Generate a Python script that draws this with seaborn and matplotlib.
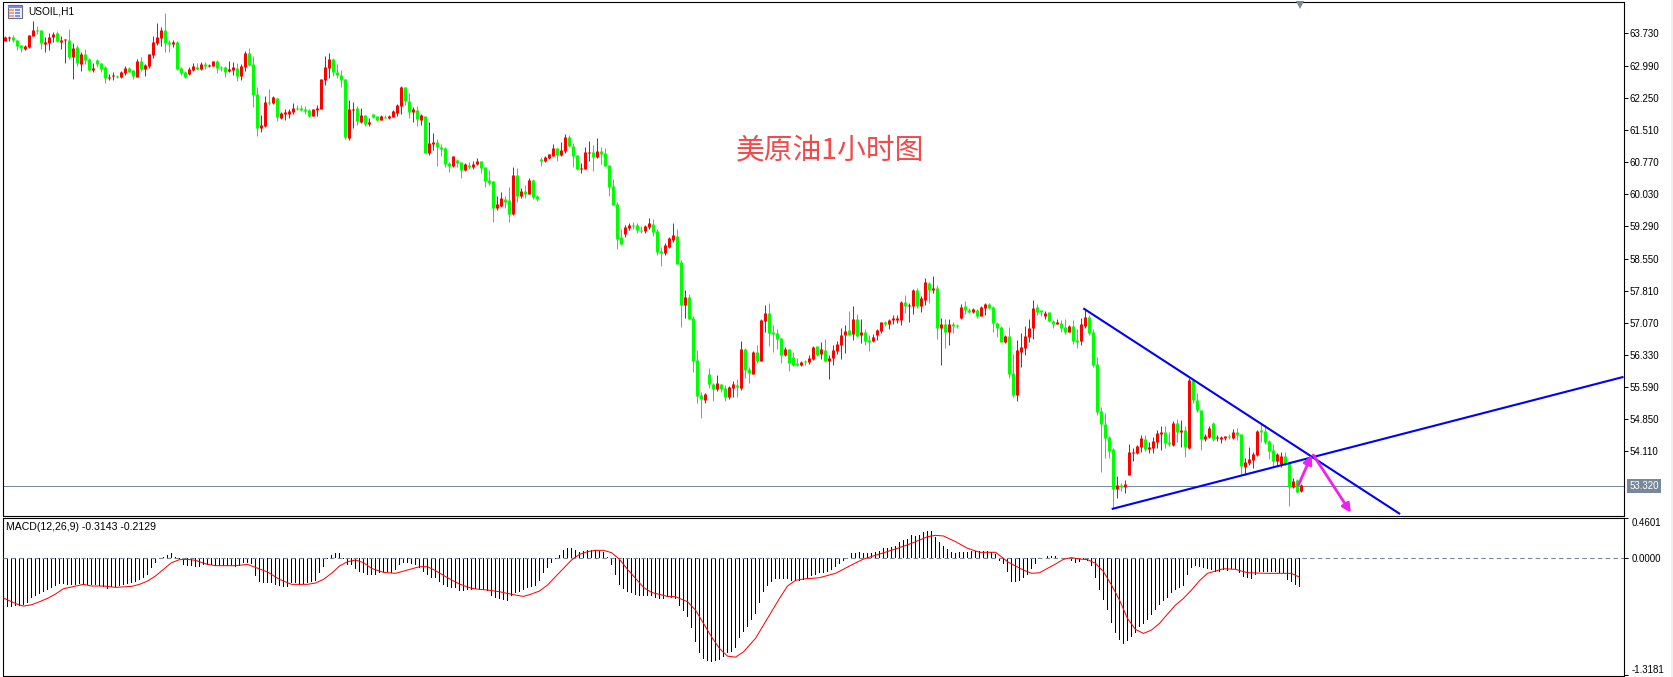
import matplotlib
matplotlib.use("Agg")
import matplotlib.pyplot as plt
import numpy as np
import pandas as pd
import seaborn as sns
from matplotlib.patches import Rectangle

# candles, one value per hour
opens = [
    63.56, 63.62, 63.65, 63.59, 63.46, 63.37, 63.42, 63.68, 63.81, 63.81,
    63.49, 63.51, 63.66, 63.74, 63.54, 63.57, 63.58, 63.19, 63.42, 63.03,
    63.26, 63.14, 62.90, 63.12, 63.05, 62.96, 62.71, 62.74, 62.76, 62.73,
    62.82, 62.94, 62.89, 62.73, 63.10, 62.91, 62.98, 63.23, 63.51, 63.63,
    63.81, 63.53, 63.49, 63.53, 62.94, 62.84, 62.80, 62.89, 62.96, 62.91,
    63.03, 62.99, 62.98, 63.10, 62.96, 62.96, 62.87, 62.89, 62.94, 62.75,
    62.96, 63.28, 63.03, 62.34, 61.55, 61.59, 62.15, 62.13, 62.25, 61.78,
    61.88, 61.88, 61.92, 62.02, 62.02, 61.99, 61.97, 61.83, 61.97, 61.99,
    62.66, 62.94, 63.14, 62.84, 62.77, 62.68, 61.32, 61.97, 62.02, 61.69,
    61.85, 61.65, 61.88, 61.83, 61.74, 61.81, 61.78, 61.81, 61.90, 62.06,
    62.50, 62.18, 61.92, 61.97, 61.74, 61.83, 60.98, 61.19, 61.23, 61.12,
    61.10, 60.75, 60.68, 60.82, 60.77, 60.59, 60.70, 60.66, 60.73, 60.80,
    60.66, 60.36, 60.34, 59.71, 59.76, 59.92, 59.90, 59.58, 60.47, 59.99,
    60.11, 60.04, 60.36, 59.99, 60.84, 60.80, 60.87, 60.91, 61.10, 60.93,
    61.03, 61.35, 61.14, 60.93, 60.62, 60.61, 60.99, 61.00, 60.89, 61.03,
    60.98, 60.70, 60.22, 59.81, 59.05, 59.12, 59.25, 59.32, 59.32, 59.21,
    59.19, 59.28, 59.35, 59.19, 58.73, 58.68, 58.82, 58.98, 59.07, 58.47,
    57.48, 57.67, 57.18, 56.22, 55.41, 55.30, 55.90, 55.67, 55.55, 55.67,
    55.57, 55.37, 55.57, 55.64, 55.57, 56.47, 56.01, 55.90, 56.40, 56.19,
    57.11, 57.30, 56.86, 56.84, 56.72, 56.33, 56.47, 56.29, 56.15, 56.10,
    56.19, 56.17, 56.24, 56.54, 56.35, 56.45, 56.19, 56.26, 56.42, 56.56,
    56.79, 56.91, 56.81, 57.16, 56.79, 56.86, 56.68, 56.65, 56.79, 56.88,
    57.09, 57.04, 57.14, 57.14, 57.14, 57.55, 57.46, 57.46, 57.83, 57.46,
    57.60, 57.99, 57.83, 57.87, 56.95, 57.04, 56.86, 57.04, 57.01, 57.18,
    57.46, 57.37, 57.32, 57.37, 57.23, 57.41, 57.50, 57.44, 57.07, 56.98,
    56.63, 56.77, 55.92, 55.41, 56.40, 56.49, 56.75, 56.95, 57.44, 57.37,
    57.23, 57.32, 57.11, 57.04, 57.07, 56.98, 56.86, 57.00, 56.68, 56.65,
    57.00, 57.21, 56.86, 56.12, 55.04, 54.74, 54.44, 54.17, 53.25, 53.34,
    53.29, 53.57, 54.08, 54.08, 54.21, 54.40, 54.17, 54.19, 54.33, 54.51,
    54.56, 54.33, 54.26, 54.77, 54.56, 54.61, 54.19, 55.76, 55.30, 55.07,
    54.40, 54.44, 54.77, 54.41, 54.40, 54.42, 54.47, 54.42, 54.56, 54.51,
    53.75, 53.85, 53.92, 54.03, 54.61, 54.58, 54.35, 54.14, 53.89, 53.82,
    54.01, 53.85, 53.29, 53.45, 53.20,
]
closes = [
    63.64, 63.64, 63.59, 63.45, 63.39, 63.44, 63.69, 63.81, 63.79, 63.50,
    63.53, 63.65, 63.72, 63.56, 63.58, 63.59, 63.19, 63.40, 63.05, 63.26,
    63.12, 62.89, 62.94, 63.03, 62.91, 62.71, 62.73, 62.77, 62.73, 62.84,
    62.94, 62.84, 62.75, 63.10, 62.91, 63.00, 63.26, 63.53, 63.65, 63.81,
    63.51, 63.49, 63.53, 62.91, 62.82, 62.73, 62.91, 62.98, 62.91, 63.03,
    62.99, 63.01, 63.10, 62.94, 62.94, 62.84, 62.91, 62.96, 62.75, 62.98,
    63.28, 63.00, 62.31, 61.55, 61.62, 62.15, 62.12, 62.27, 61.81, 61.90,
    61.92, 61.95, 62.02, 61.99, 61.97, 61.95, 61.83, 61.99, 62.02, 62.68,
    62.96, 63.14, 62.84, 62.77, 62.66, 61.35, 61.99, 61.99, 61.72, 61.85,
    61.65, 61.69, 61.81, 61.74, 61.83, 61.79, 61.83, 61.95, 62.08, 62.50,
    62.18, 61.92, 61.99, 61.76, 61.85, 60.98, 61.21, 61.23, 61.12, 61.07,
    60.73, 60.68, 60.91, 60.75, 60.59, 60.73, 60.66, 60.73, 60.80, 60.64,
    60.34, 60.29, 59.71, 59.81, 59.95, 59.85, 59.58, 60.47, 59.99, 60.11,
    60.04, 60.36, 59.97, 59.92, 60.80, 60.89, 60.96, 61.10, 60.93, 61.05,
    61.35, 61.14, 60.91, 60.61, 60.64, 61.00, 61.00, 60.89, 61.03, 60.96,
    60.68, 60.20, 59.78, 59.00, 58.89, 59.28, 59.32, 59.30, 59.21, 59.19,
    59.30, 59.37, 59.16, 58.70, 58.68, 58.86, 59.02, 59.09, 58.43, 57.48,
    57.67, 57.16, 56.19, 55.39, 55.32, 55.44, 55.67, 55.55, 55.69, 55.55,
    55.37, 55.60, 55.67, 55.60, 56.47, 55.99, 55.92, 56.40, 56.19, 57.14,
    57.30, 56.84, 56.82, 56.70, 56.33, 56.47, 56.15, 56.10, 56.10, 56.17,
    56.17, 56.26, 56.52, 56.33, 56.47, 56.19, 56.26, 56.45, 56.58, 56.79,
    56.88, 56.79, 57.16, 56.77, 56.86, 56.65, 56.63, 56.74, 56.91, 57.09,
    57.04, 57.14, 57.18, 57.18, 57.55, 57.46, 57.49, 57.83, 57.46, 57.64,
    58.01, 57.83, 57.87, 56.95, 57.04, 56.86, 57.04, 57.00, 57.00, 57.44,
    57.37, 57.32, 57.39, 57.23, 57.44, 57.50, 57.41, 57.07, 56.95, 56.63,
    56.77, 55.89, 55.41, 56.45, 56.52, 56.77, 56.95, 57.41, 57.32, 57.32,
    57.30, 57.11, 57.04, 57.09, 56.95, 56.86, 57.00, 56.65, 56.63, 57.04,
    57.21, 56.84, 56.10, 55.02, 54.74, 54.42, 54.12, 53.25, 53.34, 53.29,
    53.36, 54.10, 54.10, 54.24, 54.42, 54.17, 54.21, 54.35, 54.54, 54.56,
    54.31, 54.28, 54.77, 54.56, 54.61, 54.21, 55.76, 55.30, 55.07, 54.40,
    54.47, 54.65, 54.40, 54.44, 54.44, 54.47, 54.45, 54.56, 54.49, 53.78,
    53.87, 53.94, 54.05, 54.58, 54.56, 54.33, 54.12, 53.89, 54.05, 54.01,
    53.85, 53.29, 53.43, 53.18, 53.34,
]
highs = [
    63.67, 63.67, 63.69, 63.59, 63.46, 63.46, 63.69, 64.02, 63.90, 63.81,
    63.65, 63.74, 63.76, 63.78, 63.67, 63.60, 63.83, 63.51, 63.46, 63.30,
    63.37, 63.17, 63.05, 63.14, 63.05, 62.98, 62.80, 62.84, 62.77, 62.87,
    62.98, 62.96, 62.90, 63.14, 63.19, 63.03, 63.26, 63.67, 63.97, 63.88,
    64.20, 63.58, 63.58, 63.56, 62.96, 62.87, 62.96, 63.05, 63.05, 63.07,
    63.07, 63.03, 63.10, 63.12, 62.98, 62.98, 63.10, 63.07, 63.05, 63.03,
    63.33, 63.40, 63.21, 62.50, 61.85, 62.29, 62.45, 62.29, 62.25, 61.92,
    61.99, 61.99, 62.13, 62.08, 62.08, 62.06, 61.99, 61.99, 62.08, 62.68,
    63.21, 63.28, 63.17, 63.03, 62.89, 62.68, 62.20, 62.15, 62.06, 62.02,
    61.85, 61.78, 61.88, 61.83, 61.85, 61.85, 61.85, 61.97, 62.11, 62.52,
    62.50, 62.36, 62.04, 62.06, 61.88, 61.83, 61.69, 61.44, 61.30, 61.19,
    61.12, 60.77, 60.91, 60.84, 60.77, 60.75, 60.77, 60.80, 60.87, 60.80,
    60.66, 60.59, 60.34, 59.99, 60.08, 59.99, 60.20, 60.66, 60.64, 60.18,
    60.24, 60.41, 60.38, 60.01, 60.89, 60.91, 60.96, 61.19, 61.10, 61.23,
    61.42, 61.39, 61.21, 60.93, 60.75, 61.12, 61.26, 61.16, 61.33, 61.12,
    61.10, 60.70, 60.38, 59.85, 59.23, 59.32, 59.37, 59.39, 59.37, 59.30,
    59.32, 59.48, 59.46, 59.23, 58.82, 58.91, 59.05, 59.37, 59.23, 58.52,
    57.83, 57.74, 57.23, 56.45, 55.48, 55.46, 56.03, 55.69, 55.87, 55.67,
    55.64, 55.62, 55.73, 55.78, 56.65, 56.49, 56.06, 56.42, 56.56, 57.16,
    57.48, 57.53, 57.02, 56.93, 56.72, 56.52, 56.47, 56.40, 56.26, 56.19,
    56.22, 56.33, 56.54, 56.54, 56.63, 56.70, 56.33, 56.56, 56.65, 56.95,
    57.02, 57.34, 57.46, 57.28, 57.16, 56.93, 56.79, 56.81, 56.93, 57.09,
    57.11, 57.16, 57.25, 57.25, 57.57, 57.71, 57.53, 57.85, 57.87, 57.69,
    58.10, 58.01, 58.15, 57.94, 57.18, 57.16, 57.16, 57.09, 57.04, 57.50,
    57.57, 57.41, 57.41, 57.39, 57.46, 57.53, 57.53, 57.46, 57.09, 57.00,
    56.79, 56.98, 56.35, 56.68, 56.84, 57.00, 57.16, 57.60, 57.50, 57.37,
    57.34, 57.32, 57.14, 57.16, 57.14, 57.16, 57.02, 57.14, 56.93, 57.18,
    57.40, 57.25, 56.93, 56.28, 55.13, 54.99, 54.47, 54.19, 53.55, 53.39,
    53.46, 54.28, 54.19, 54.26, 54.49, 54.49, 54.33, 54.44, 54.61, 54.70,
    54.70, 54.56, 54.81, 54.86, 54.84, 54.70, 55.80, 55.76, 55.46, 55.07,
    54.51, 54.70, 54.79, 54.49, 54.47, 54.47, 54.51, 54.63, 54.65, 54.51,
    53.96, 54.21, 54.10, 54.61, 54.77, 54.72, 54.38, 54.28, 54.08, 54.10,
    54.10, 53.87, 53.50, 53.48, 53.36,
]
lows = [
    63.56, 63.56, 63.54, 63.35, 63.31, 63.36, 63.40, 63.68, 63.72, 63.37,
    63.31, 63.35, 63.54, 63.53, 63.37, 63.05, 63.15, 62.68, 62.99, 62.87,
    63.03, 62.87, 62.84, 62.96, 62.84, 62.59, 62.66, 62.66, 62.71, 62.71,
    62.77, 62.84, 62.68, 62.73, 62.87, 62.75, 62.94, 63.17, 63.46, 63.44,
    63.30, 63.30, 63.42, 62.89, 62.77, 62.71, 62.77, 62.87, 62.89, 62.89,
    62.91, 62.96, 62.98, 62.82, 62.87, 62.73, 62.84, 62.77, 62.64, 62.66,
    62.87, 62.98, 62.04, 61.37, 61.46, 61.58, 62.08, 62.11, 61.72, 61.76,
    61.74, 61.78, 61.88, 61.97, 61.95, 61.88, 61.81, 61.83, 61.83, 61.99,
    62.54, 62.71, 62.75, 62.71, 62.50, 61.30, 61.28, 61.55, 61.62, 61.67,
    61.60, 61.60, 61.78, 61.72, 61.74, 61.78, 61.76, 61.81, 61.83, 61.88,
    62.08, 61.78, 61.69, 61.60, 61.62, 60.98, 60.93, 61.05, 60.68, 60.91,
    60.66, 60.54, 60.66, 60.66, 60.40, 60.57, 60.61, 60.61, 60.70, 60.52,
    60.20, 60.24, 59.39, 59.67, 59.74, 59.71, 59.39, 59.55, 59.85, 59.95,
    59.95, 60.04, 59.92, 59.88, 60.68, 60.77, 60.84, 60.91, 60.80, 60.91,
    60.98, 61.12, 60.66, 60.59, 60.52, 60.61, 60.80, 60.57, 60.87, 60.73,
    60.68, 59.99, 59.78, 58.77, 58.86, 59.05, 59.21, 59.23, 59.14, 59.14,
    59.14, 59.23, 59.07, 58.63, 58.38, 58.63, 58.79, 58.93, 58.43, 56.98,
    57.18, 57.16, 55.94, 55.23, 54.88, 55.23, 55.57, 55.27, 55.50, 55.48,
    55.27, 55.32, 55.37, 55.37, 55.53, 55.80, 55.69, 55.90, 56.15, 56.19,
    56.86, 56.54, 56.40, 56.47, 56.15, 56.31, 55.96, 56.08, 56.08, 56.08,
    56.10, 56.12, 56.22, 56.31, 56.24, 56.17, 55.78, 56.10, 56.35, 56.24,
    56.38, 56.79, 56.68, 56.75, 56.61, 56.56, 56.42, 56.63, 56.68, 56.84,
    57.00, 56.93, 57.04, 57.07, 57.02, 57.30, 57.09, 57.28, 57.41, 57.32,
    57.48, 57.53, 57.76, 56.70, 56.10, 56.49, 56.56, 56.84, 56.95, 57.16,
    57.27, 57.30, 57.30, 57.18, 57.23, 57.25, 57.39, 56.86, 56.75, 56.63,
    56.61, 55.80, 55.37, 55.27, 56.05, 56.33, 56.63, 56.70, 57.25, 57.23,
    57.16, 57.09, 56.95, 57.04, 56.86, 56.81, 56.86, 56.58, 56.49, 56.56,
    56.95, 56.79, 56.05, 54.95, 53.64, 53.96, 53.96, 52.79, 53.04, 53.20,
    53.16, 53.57, 53.89, 54.05, 54.10, 54.12, 54.08, 54.08, 54.19, 54.14,
    54.19, 54.24, 54.24, 54.33, 54.21, 53.98, 54.17, 55.23, 55.02, 54.14,
    54.35, 54.42, 54.35, 54.35, 54.31, 54.38, 54.40, 54.40, 54.38, 53.57,
    53.57, 53.80, 53.73, 54.01, 54.33, 54.28, 53.94, 53.75, 53.78, 53.75,
    53.80, 52.86, 53.27, 53.16, 53.18,
]

# macd histogram
macd_hist = [
    -0.470, -0.545, -0.545, -0.538, -0.534, -0.526, -0.500, -0.451, -0.425, -0.402,
    -0.376, -0.357, -0.338, -0.312, -0.290, -0.290, -0.297, -0.305, -0.297, -0.290,
    -0.301, -0.305, -0.305, -0.305, -0.312, -0.327, -0.342, -0.327, -0.320, -0.312,
    -0.305, -0.290, -0.282, -0.263, -0.244, -0.226, -0.192, -0.113, -0.056, -0.008,
    0.019, 0.038, 0.056, 0.011, -0.008, -0.075, -0.086, -0.086, -0.094, -0.094,
    -0.075, -0.075, -0.075, -0.086, -0.086, -0.086, -0.086, -0.086, -0.094, -0.086,
    -0.056, -0.056, -0.064, -0.196, -0.263, -0.282, -0.282, -0.282, -0.301, -0.312,
    -0.320, -0.320, -0.282, -0.282, -0.301, -0.290, -0.282, -0.263, -0.252, -0.169,
    -0.094, -0.008, 0.038, 0.056, 0.056, -0.011, -0.075, -0.075, -0.124, -0.150,
    -0.169, -0.188, -0.188, -0.188, -0.169, -0.150, -0.150, -0.169, -0.132, -0.075,
    -0.056, -0.056, -0.068, -0.075, -0.113, -0.150, -0.188, -0.226, -0.226, -0.263,
    -0.301, -0.327, -0.338, -0.338, -0.368, -0.368, -0.357, -0.357, -0.346, -0.350,
    -0.357, -0.368, -0.425, -0.451, -0.462, -0.470, -0.478, -0.425, -0.395, -0.376,
    -0.357, -0.338, -0.327, -0.312, -0.252, -0.162, -0.113, -0.056, -0.008, 0.038,
    0.094, 0.117, 0.117, 0.094, 0.075, 0.086, 0.094, 0.094, 0.094, 0.086,
    0.075, 0.019, -0.075, -0.188, -0.301, -0.346, -0.376, -0.395, -0.414, -0.421,
    -0.421, -0.425, -0.425, -0.444, -0.455, -0.455, -0.440, -0.444, -0.462, -0.538,
    -0.594, -0.658, -0.790, -0.940, -1.064, -1.136, -1.158, -1.166, -1.158, -1.147,
    -1.109, -1.064, -1.053, -1.011, -0.902, -0.835, -0.771, -0.696, -0.628, -0.508,
    -0.380, -0.312, -0.263, -0.233, -0.233, -0.233, -0.237, -0.252, -0.252, -0.252,
    -0.244, -0.237, -0.199, -0.188, -0.169, -0.169, -0.150, -0.132, -0.094, -0.064,
    -0.026, 0.004, 0.056, 0.064, 0.068, 0.064, 0.056, 0.056, 0.068, 0.086,
    0.113, 0.117, 0.132, 0.139, 0.188, 0.207, 0.214, 0.263, 0.252, 0.263,
    0.301, 0.308, 0.308, 0.244, 0.188, 0.139, 0.102, 0.075, 0.056, 0.071,
    0.075, 0.075, 0.083, 0.079, 0.079, 0.079, 0.079, 0.068, 0.049, -0.026,
    -0.064, -0.150, -0.263, -0.263, -0.252, -0.218, -0.188, -0.124, -0.064, -0.011,
    0.008, 0.026, 0.026, 0.026, 0.008, -0.008, -0.011, -0.026, -0.049, -0.038,
    -0.008, -0.026, -0.086, -0.218, -0.357, -0.470, -0.583, -0.733, -0.846, -0.921,
    -0.966, -0.932, -0.891, -0.838, -0.771, -0.741, -0.696, -0.639, -0.583, -0.526,
    -0.478, -0.451, -0.387, -0.357, -0.331, -0.312, -0.188, -0.113, -0.086, -0.094,
    -0.113, -0.124, -0.132, -0.150, -0.150, -0.132, -0.143, -0.124, -0.124, -0.169,
    -0.207, -0.218, -0.233, -0.188, -0.150, -0.150, -0.158, -0.158, -0.158, -0.162,
    -0.169, -0.244, -0.263, -0.301, -0.327,
]

# signal line read at these bars
signal_bars = [
    0, 2, 4, 5, 7, 9, 11, 13, 15, 17, 20, 22, 25, 28, 32, 34, 36, 38, 40, 42,
    44, 46, 48, 51, 53, 58, 61, 63, 66, 69, 72, 76, 78, 80, 82, 84, 86, 88, 90, 92,
    95, 98, 101, 104, 106, 108, 111, 114, 117, 119, 121, 124, 128, 130, 132, 134,
    136, 138, 140, 142, 144, 146, 148, 150, 152, 154, 156, 158, 160, 162, 164, 166,
    168, 171, 173, 175, 177, 179, 181, 183, 185, 188, 190, 192, 194, 196, 198, 200,
    204, 208, 212, 215, 219, 223, 227, 231, 233, 235, 238, 241, 244, 248, 250, 251,
    253, 255, 257, 259, 261, 263, 265, 267, 269, 271, 273, 275, 277, 279, 281, 283,
    285, 287, 289, 291, 293, 295, 297, 299, 301, 303, 305, 308, 311, 316, 322, 324,
]
signal_values = [
    -0.447, -0.489, -0.526, -0.538, -0.523, -0.489, -0.451, -0.402, -0.342, -0.323,
    -0.293, -0.312, -0.312, -0.327, -0.316, -0.293, -0.256, -0.199, -0.124, -0.049,
    -0.015, -0.011, -0.023, -0.068, -0.083, -0.083, -0.068, -0.102, -0.154, -0.237,
    -0.293, -0.293, -0.278, -0.237, -0.169, -0.086, -0.038, -0.019, -0.049, -0.113,
    -0.158, -0.169, -0.132, -0.094, -0.094, -0.139, -0.218, -0.290, -0.338, -0.350,
    -0.357, -0.376, -0.414, -0.429, -0.402, -0.368, -0.301, -0.207, -0.113, -0.019,
    0.045, 0.075, 0.090, 0.090, 0.064, -0.011, -0.124, -0.226, -0.327, -0.384,
    -0.406, -0.429, -0.432, -0.489, -0.583, -0.733, -0.884, -1.015, -1.102, -1.113,
    -1.053, -0.902, -0.752, -0.602, -0.451, -0.312, -0.248, -0.233, -0.218, -0.169,
    -0.075, -0.008, 0.049, 0.105, 0.169, 0.244, 0.259, 0.252, 0.188, 0.113,
    0.068, 0.068, 0.000, -0.038, -0.086, -0.132, -0.169, -0.162, -0.113, -0.064,
    -0.011, 0.008, -0.008, -0.015, -0.056, -0.150, -0.301, -0.470, -0.677, -0.801,
    -0.846, -0.808, -0.733, -0.628, -0.526, -0.451, -0.357, -0.252, -0.169, -0.143,
    -0.117, -0.124, -0.162, -0.169, -0.169, -0.213,
]

price_ticks = [63.73, 62.99, 62.25, 61.51, 60.77, 60.03, 59.29, 58.55, 57.81, 57.07, 56.33, 55.59, 54.85, 54.11]
macd_ticks = [0.4601, 0.0, -1.3181]
last_price = 53.32
chart_label = "USOIL,H1"
macd_label = "MACD(12,26,9) -0.3143 -0.2129"
note_label = "美原油1小时图"

# trend lines and the two arrows, as (bar, price)
falling_line = [(269.7, 57.405), (348.9, 52.67)]
rising_line = [(276.8, 52.786), (404.75, 55.827)]
arrow_up = [(323.5, 53.34), (326.8, 54.03)]
arrow_down = [(327.2, 54.03), (336.6, 52.70)]

W, H = 1673, 677
UP = "#ff0000"
DOWN = "#00ff00"
SLATE = "#778899"
TEXT = ["Liberation Sans", "DejaVu Sans"]

sns.set_theme(style="white")
plt.rcParams["font.family"] = TEXT

candles = pd.DataFrame({"open": opens, "close": closes, "high": highs, "low": lows})
candles["bar"] = np.arange(len(candles))
candles["color"] = np.where(candles["close"] >= candles["open"], UP, DOWN)
hist = pd.DataFrame({"bar": candles["bar"] - 0.25, "value": macd_hist})
signal = pd.DataFrame({"bar": np.array(signal_bars) - 0.25, "value": signal_values})

fig = plt.figure(figsize=(W / 100, H / 100), dpi=100, facecolor="white")
left, right = 3.5 / W, 1623.5 / W
ax = fig.add_axes([left, 1 - 515.5 / H, right - left, 514 / H])
ax_macd = fig.add_axes([left, 1 - 675.5 / H, right - left, 158 / H])

# price pane
ax.axhline(last_price, color=SLATE, lw=0.72, zorder=1)
ax.vlines(candles["bar"], candles["low"], candles["high"], colors=candles["color"],
          lw=0.72, zorder=2)
# bodies are 3 px wide, dojis keep a sliver of height
body_low = candles[["open", "close"]].min(axis=1)
body_high = np.maximum(candles[["open", "close"]].max(axis=1), body_low + 0.023)
ax.vlines(candles["bar"], body_low, body_high, colors=candles["color"], lw=2.16, zorder=3)

for line in (falling_line, rising_line):
    ax.plot(*zip(*line), color="#0000ff", lw=1.5, zorder=4, solid_capstyle="butt")
for start, end in (arrow_up, arrow_down):
    ax.annotate("", xy=end, xytext=start, zorder=5,
                arrowprops=dict(arrowstyle="-|>", color="#f020f0", lw=2.0, mutation_scale=13,
                                shrinkA=0, shrinkB=0))

ax.set_xlim(-0.25, 404.75)
ax.set_ylim(52.637, 64.466)
ax.set_yticks(price_ticks)
ax.set_yticklabels([f"{v:.3f}" for v in price_ticks])
ax.set_xticks([])
ax.yaxis.tick_right()
ax.tick_params(axis="y", length=3, width=0.72, color="black", labelsize=7, pad=1.5, labelcolor="black")
ax.set_xlabel("")
ax.text(24.5 / 1620, 1 - 10.5 / 514, chart_label, transform=ax.transAxes, fontsize=7.3, va="center", color="black")
ax.text(732.5 / 1620, 1 - 150 / 514, note_label, transform=ax.transAxes, fontsize=20.7, va="center",
        color="#f04a4a", family=["Noto Sans CJK SC", "DejaVu Sans"], weight="light")
ax.text(1.0035, (last_price - 52.637) / (64.466 - 52.637), f"{last_price:.3f}", transform=ax.transAxes,
        fontsize=7, va="center", ha="left", color="white",
        bbox=dict(boxstyle="square,pad=0.2", fc=SLATE, ec=SLATE, lw=0))

# macd pane
sns.barplot(data=hist, x="bar", y="value", native_scale=True, width=0.25, color="black",
            saturation=1, linewidth=0, antialiased=False, ax=ax_macd, zorder=2)
ax_macd.axhline(0, color=SLATE, lw=0.8, ls=(0, (4, 3)), zorder=3)
sns.lineplot(data=signal, x="bar", y="value", color="#ff0000", lw=0.72, errorbar=None, ax=ax_macd, zorder=4)
ax_macd.set_xlim(-0.25, 404.75)
ax_macd.set_ylim(-1.32, 0.4601)
ax_macd.set_xlabel("")
ax_macd.set_ylabel("")
ax_macd.set_xticks(15.75 + 16 * np.arange(25))
ax_macd.set_xticklabels([])
ax_macd.tick_params(axis="x", length=1.5, width=0.72, color="black")
ax_macd.yaxis.tick_right()
ax_macd.set_yticks(macd_ticks)
ax_macd.set_yticklabels([f"{v:.4f}" for v in macd_ticks])
ax_macd.tick_params(axis="y", length=3, width=0.72, color="black", labelsize=7, pad=3, labelcolor="black")
ax_macd.get_yticklabels()[0].set_va("top")
ax_macd.get_yticklabels()[2].set_va("bottom")
ax_macd.text(3 / 1620, 1 - 9 / 158, macd_label, transform=ax_macd.transAxes, fontsize=7.55, va="center", color="black")

for a in (ax, ax_macd):
    for spine in a.spines.values():
        spine.set_visible(True)
        spine.set_color("black")
        spine.set_linewidth(0.8)

# window icon next to the symbol, grey strip on the right, marker on the top edge
fig.add_artist(Rectangle((7.5 / W, 1 - 17.5 / H), 14 / W, 12 / H, fc="#eef0f6", ec="#6a6a80", lw=0.8))
fig.add_artist(Rectangle((7.5 / W, 1 - 7.5 / H), 14 / W, 2 / H, fc="#7a86e8", ec="none"))
for k in range(3):
    fig.add_artist(Rectangle((9 / W, 1 - (11 + 3 * k) / H), 5 / W, 2 / H, fc="#f0a090", ec="none"))
    fig.add_artist(Rectangle((15 / W, 1 - (11 + 3 * k) / H), 5 / W, 2 / H, fc="#8090e8", ec="none"))
fig.add_artist(Rectangle((1671 / W, 0), 2 / W, 1, fc="#f0f0f0", ec="none"))
ax.plot([323.75], [1 - 3 / 514], marker="v", ms=6, mew=0, color=SLATE, clip_on=False,
        transform=ax.get_xaxis_transform(), zorder=6)

fig.savefig("out.png", dpi=100)
